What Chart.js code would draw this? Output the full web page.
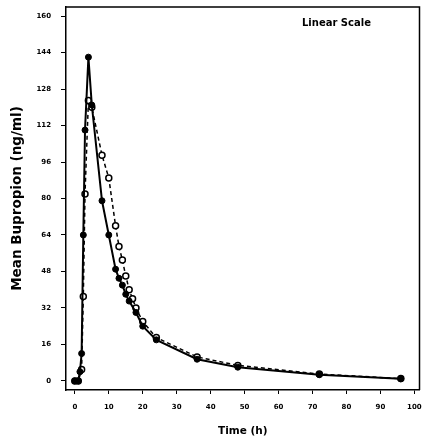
<!DOCTYPE html>
<html><head><meta charset="utf-8">
<script src="https://cdn.jsdelivr.net/npm/chart.js@4/dist/chart.umd.min.js"></script>
<style>html,body{margin:0;padding:0;background:#fff}</style>
</head><body>
<canvas id="c" width="425" height="443"></canvas>
<script>
// Solid line, filled circles
const timesA  = [0, 1, 1.5, 2, 2.5, 3, 4, 5, 8, 10, 12, 13, 14, 15, 16, 18, 20, 24, 36, 48, 72, 96];
const valuesA = [0, 0, 4, 12, 64, 110, 142, 121, 79, 64, 49, 45, 42, 38, 35, 30, 24, 18, 9.5, 6, 2.7, 0.9];
// Dashed line, open circles
const timesB  = [0, 1, 2, 2.5, 3, 4, 5, 8, 10, 12, 13, 14, 15, 16, 17, 18, 20, 24, 36, 48, 72, 96];
const valuesB = [0, 0, 5, 37, 82, 123, 120, 99, 89, 68, 59, 53, 46, 40, 36, 32, 26, 19, 10.5, 6.8, 3, 1];
const xTicks = [0, 10, 20, 30, 40, 50, 60, 70, 80, 90, 100];
const yTicks = [0, 16, 32, 48, 64, 80, 96, 112, 128, 144, 160];
const xTitle = 'Time (h)';
const yTitle = 'Mean Bupropion (ng/ml)';
const noteText = 'Linear Scale';

const toPts = (t, v) => t.map((x, i) => ({x: x, y: v[i]}));
const fontTick = {family: 'DejaVu Sans', size: 7, weight: 'bold'};

const framePlugin = {
  id: 'frame',
  afterDraw(chart) {
    const {ctx, chartArea: a} = chart;
    ctx.save();
    ctx.strokeStyle = '#000';
    ctx.lineWidth = 1.5;
    ctx.beginPath();
    ctx.moveTo(a.left, a.top);
    ctx.lineTo(a.right, a.top);
    ctx.lineTo(a.right, a.bottom);
    ctx.stroke();
    ctx.fillStyle = '#000';
    ctx.font = 'bold 10px "DejaVu Sans"';
    ctx.textAlign = 'left';
    ctx.textBaseline = 'middle';
    ctx.fillText(noteText, 302, 23);
    ctx.restore();
  }
};

new Chart(document.getElementById('c'), {
  type: 'line',
  data: {
    datasets: [
      {
        data: toPts(timesA, valuesA),
        borderColor: '#000', borderWidth: 2,
        pointRadius: 3, pointBackgroundColor: '#000', pointBorderColor: '#000',
        pointBorderWidth: 1, tension: 0
      },
      {
        data: toPts(timesB, valuesB),
        borderColor: '#000', borderWidth: 1.5, borderDash: [4, 3],
        pointRadius: 3, pointBackgroundColor: '#fff', pointBorderColor: '#000',
        pointBorderWidth: 1.5, tension: 0
      }
    ]
  },
  options: {
    responsive: false,
    animation: false,
    devicePixelRatio: 1,
    layout: {padding: {top: 7, right: 5, left: 0, bottom: 0}},
    plugins: {legend: {display: false}, tooltip: {enabled: false}},
    scales: {
      x: {
        type: 'linear', min: -2.6, max: 101.5,
        afterBuildTicks: s => { s.ticks = xTicks.map(v => ({value: v})); },
        afterFit: s => { s.height = 53; s.paddingRight = 0; s.paddingLeft = 0; },
        ticks: {font: fontTick, color: '#000', padding: 9, maxRotation: 0},
        grid: {drawOnChartArea: false, tickLength: 4, color: '#000', lineWidth: 1},
        border: {color: '#000', width: 1.5},
        title: {display: true, text: xTitle, font: {family: 'DejaVu Sans', size: 10.5, weight: 'bold'}, color: '#000', padding: {top: 4, bottom: 5}}
      },
      y: {
        type: 'linear', min: -4, max: 164,
        afterBuildTicks: s => { s.ticks = yTicks.map(v => ({value: v})); },
        afterFit: s => { s.width = 66; s.paddingTop = 0; s.paddingBottom = 0; },
        ticks: {font: fontTick, color: '#000', padding: 10},
        grid: {drawOnChartArea: false, tickLength: 5, color: '#000', lineWidth: 1},
        border: {color: '#000', width: 1.5},
        title: {display: true, text: yTitle, font: {family: 'DejaVu Sans', size: 13.5, weight: 'bold'}, color: '#000', padding: {top: 9, bottom: 2}}
      }
    }
  },
  plugins: [framePlugin]
});
</script>
</body></html>
